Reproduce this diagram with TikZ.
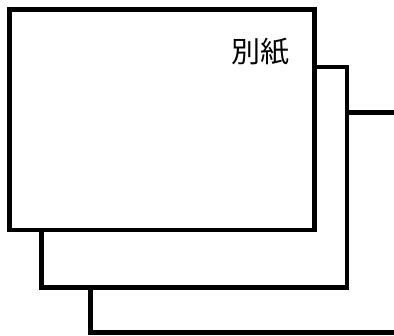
\documentclass[tikz,border=0pt]{standalone}
\usepackage{fontspec}
\newfontfamily\jpfont{Noto Sans CJK JP}
\begin{document}
\begin{tikzpicture}[scale=0.03515]
            \tikzstyle{every node}+=[inner sep=0pt]
            \tikzstyle{sheet}=[draw=black, fill=white, line width=4.7pt]
            \clip (0,0) rectangle (394,-335);
            \useasboundingbox (0,0) rectangle (394,-335);
            \draw [sheet] (90.5,-112.5) rectangle (397,-332.5);
            \draw [sheet] (41.5,-67) rectangle (347,-287.5);
            \draw [sheet] (9.5,-9.5) rectangle (314.5,-230);
            \node (label) at (260,-52) {\jpfont\fontsize{29pt}{29pt}\selectfont 別紙};
        \end{tikzpicture}
\end{document}
